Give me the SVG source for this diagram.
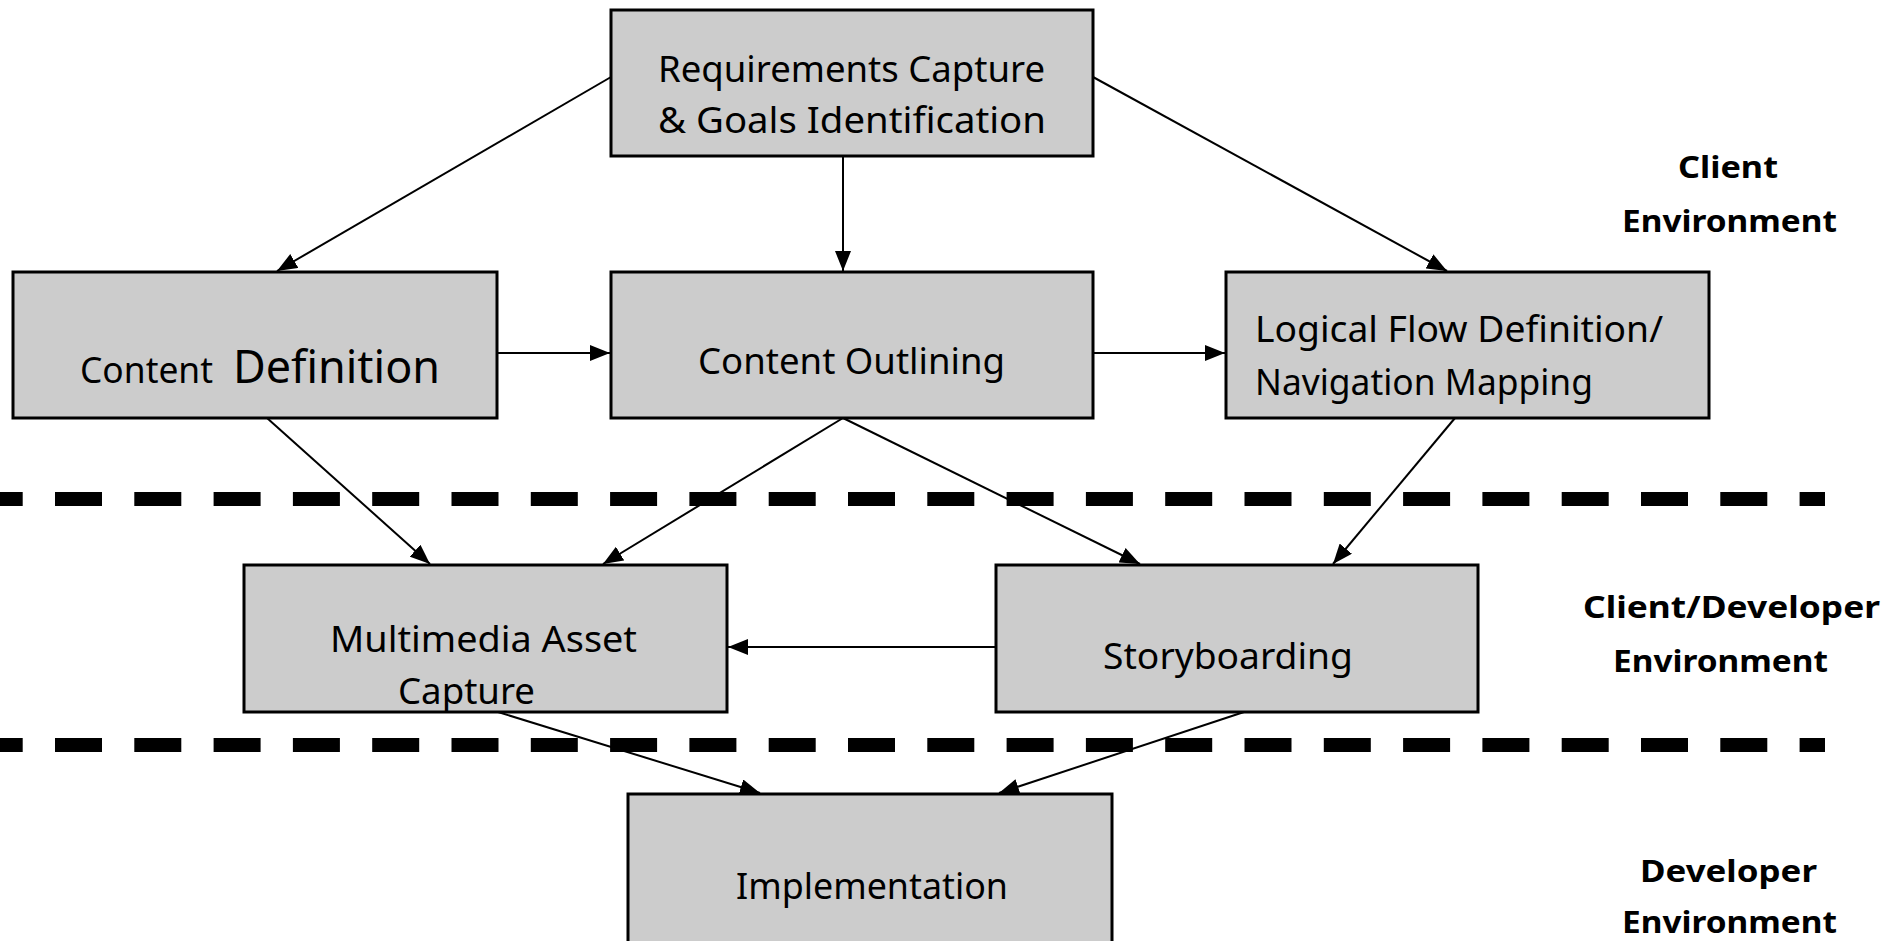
<svg xmlns="http://www.w3.org/2000/svg" width="1887" height="941" viewBox="0 0 1887 941">
  <style>
    .box { fill: #cccccc; stroke: #000; stroke-width: 3; }
    .lbl { font-family: "Comic Sans MS", "Noto Sans", "DejaVu Sans", sans-serif; font-size: 36px; fill: #000; }
    .zone { font-family: "Comic Sans MS", "Noto Sans", "DejaVu Sans", sans-serif; font-size: 31px; font-weight: bold; fill: #000; }
    .edge { stroke: #000; stroke-width: 2; fill: none; marker-end: url(#arrow); }
    .divider { stroke: #000; stroke-width: 14; stroke-dasharray: 47 32.3; stroke-dashoffset: 24.3; }
  </style>
  <defs>
    <marker id="arrow" markerUnits="userSpaceOnUse" markerWidth="20" markerHeight="16" refX="20" refY="8" orient="auto">
      <path d="M0,0 L20,8 L0,16 z" fill="#000"/>
    </marker>
  </defs>
  <rect width="1887" height="941" fill="#fff"/>

  <!-- environment dividers -->
  <g id="dividers">
    <line class="divider" x1="0" y1="499" x2="1825" y2="499"/>
    <line class="divider" x1="0" y1="745" x2="1825" y2="745"/>
  </g>

  <!-- connectors -->
  <g id="connectors">
    <line class="edge" x1="611" y1="77" x2="277" y2="271"/>
    <line class="edge" x1="843" y1="157" x2="843" y2="271"/>
    <line class="edge" x1="1093" y1="77" x2="1447" y2="271"/>
    <line class="edge" x1="497" y1="353" x2="610" y2="353"/>
    <line class="edge" x1="1093" y1="353" x2="1225" y2="353"/>
    <line class="edge" x1="267" y1="418" x2="430" y2="564"/>
    <line class="edge" x1="843" y1="418" x2="603" y2="564"/>
    <line class="edge" x1="843" y1="418" x2="1140" y2="564"/>
    <line class="edge" x1="1455" y1="418" x2="1333" y2="564"/>
    <line class="edge" x1="996" y1="647" x2="728" y2="647"/>
    <line class="edge" x1="498" y1="712" x2="760" y2="793"/>
    <line class="edge" x1="1244" y1="712" x2="999" y2="793"/>
  </g>

  <g id="requirements">
    <rect class="box" x="611" y="10" width="482" height="146"/>
    <text class="lbl" x="658" y="82" textLength="387" lengthAdjust="spacingAndGlyphs">Requirements Capture</text>
    <text class="lbl" x="658" y="133" textLength="388" lengthAdjust="spacingAndGlyphs">&amp; Goals Identification</text>
  </g>

  <g id="content-definition">
    <rect class="box" x="13" y="272" width="484" height="146"/>
    <text class="lbl" x="80" y="383" textLength="133" lengthAdjust="spacingAndGlyphs">Content</text>
    <text class="lbl" x="233" y="383" style="font-size:46px" textLength="207" lengthAdjust="spacingAndGlyphs">Definition</text>
  </g>

  <g id="content-outlining">
    <rect class="box" x="611" y="272" width="482" height="146"/>
    <text class="lbl" x="698" y="374" textLength="307" lengthAdjust="spacingAndGlyphs">Content Outlining</text>
  </g>

  <g id="logical-flow">
    <rect class="box" x="1226" y="272" width="483" height="146"/>
    <text class="lbl" x="1255" y="342" textLength="408" lengthAdjust="spacingAndGlyphs">Logical Flow Definition/</text>
    <text class="lbl" x="1255" y="395" textLength="338" lengthAdjust="spacingAndGlyphs">Navigation Mapping</text>
  </g>

  <g id="multimedia-asset">
    <rect class="box" x="244" y="565" width="483" height="147"/>
    <text class="lbl" x="330" y="652" textLength="307" lengthAdjust="spacingAndGlyphs">Multimedia Asset</text>
    <text class="lbl" x="398" y="704" textLength="137" lengthAdjust="spacingAndGlyphs">Capture</text>
  </g>

  <g id="storyboarding">
    <rect class="box" x="996" y="565" width="482" height="147"/>
    <text class="lbl" x="1103" y="669" textLength="250" lengthAdjust="spacingAndGlyphs">Storyboarding</text>
  </g>

  <g id="implementation">
    <rect class="box" x="628" y="794" width="484" height="152"/>
    <text class="lbl" x="736" y="899" textLength="272" lengthAdjust="spacingAndGlyphs">Implementation</text>
  </g>

  <!-- environment labels -->
  <g id="zone-client">
    <text class="zone" x="1678" y="178" textLength="100" lengthAdjust="spacingAndGlyphs">Client</text>
    <text class="zone" x="1622" y="232" textLength="215" lengthAdjust="spacingAndGlyphs">Environment</text>
  </g>
  <g id="zone-client-developer">
    <text class="zone" x="1583" y="618" textLength="297" lengthAdjust="spacingAndGlyphs">Client/Developer</text>
    <text class="zone" x="1613" y="672" textLength="215" lengthAdjust="spacingAndGlyphs">Environment</text>
  </g>
  <g id="zone-developer">
    <text class="zone" x="1640" y="882" textLength="177" lengthAdjust="spacingAndGlyphs">Developer</text>
    <text class="zone" x="1622" y="933" textLength="215" lengthAdjust="spacingAndGlyphs">Environment</text>
  </g>
</svg>
